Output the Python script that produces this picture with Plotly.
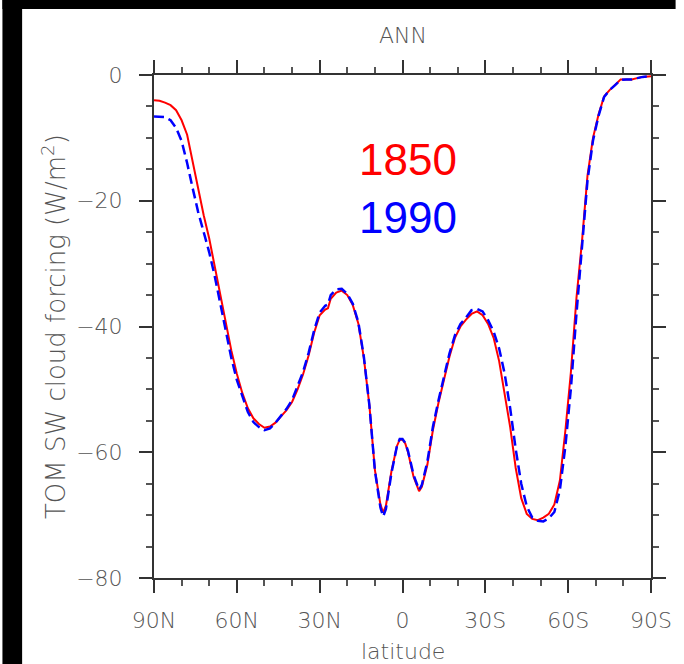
import plotly.graph_objects as go

# latitude (degrees, + = N, - = S)
lat = [90, 88, 86, 84, 82, 80, 78, 76, 74, 72, 70, 68, 66, 64, 62, 60, 58, 56, 54, 52,
       50, 48, 46, 44, 42, 40, 38, 36, 34, 32, 30, 28, 27, 26, 24, 22, 20, 18, 16, 14,
       12, 10, 8, 7, 6, 4, 2, 1, 0, -1, -2, -4, -6, -7, -9, -11, -13, -15, -17, -19,
       -21, -23, -25, -27, -29, -31, -33, -35, -37, -39, -41, -43, -45, -47, -49, -51,
       -53, -55, -57, -59, -61, -63, -65, -67, -69, -71, -73, -75, -77, -79, -81, -83,
       -85, -87, -90]

swcf_1850 = [-4.0, -4.1, -4.4, -4.8, -5.6, -7.2, -9.5, -13.8, -18.3, -22.3, -26.0, -30.5,
             -35.0, -39.5, -43.8, -47.5, -50.6, -53.0, -54.6, -55.5, -56.1, -55.9, -55.3,
             -54.3, -53.3, -52.0, -50.0, -47.6, -44.6, -41.0, -38.2, -37.3, -37.1, -35.6,
             -34.6, -34.3, -35.0, -36.6, -39.5, -45.0, -52.5, -62.8, -68.3, -69.6, -68.5,
             -63.0, -59.0, -58.0, -58.0, -58.6, -60.0, -63.9, -66.2, -65.5, -62.0, -56.5,
             -52.2, -48.5, -44.8, -41.8, -40.0, -38.9, -38.0, -37.6, -38.2, -39.6, -41.8,
             -45.5, -50.5, -56.0, -62.5, -67.3, -69.8, -70.6, -70.8, -70.4, -69.8, -68.3,
             -64.5, -56.5, -47.2, -35.5, -26.5, -16.0, -10.0, -6.3, -3.4, -2.4, -1.6, -0.7,
             -0.7, -0.7, -0.5, -0.3, -0.2]

swcf_1990 = [-6.6, -6.6, -6.7, -7.2, -8.4, -10.5, -14.0, -18.0, -21.8, -25.0, -28.2, -32.0,
             -36.3, -40.8, -45.0, -48.5, -51.2, -53.6, -55.2, -56.0, -56.5, -56.2, -55.3,
             -54.2, -53.1, -51.7, -49.6, -47.2, -44.2, -40.6, -37.8, -36.7, -36.5, -35.0,
             -34.1, -34.0, -34.8, -36.4, -39.3, -44.8, -52.5, -62.9, -68.8, -70.2, -69.0,
             -63.3, -59.0, -57.9, -57.9, -58.5, -59.8, -63.6, -66.0, -65.2, -61.5, -56.0,
             -51.8, -48.0, -44.3, -41.4, -39.6, -38.6, -37.4, -37.2, -37.6, -39.0, -40.8,
             -43.5, -47.5, -53.0, -59.5, -65.0, -68.6, -70.4, -70.9, -71.0, -70.5, -69.5,
             -66.0, -59.0, -49.8, -38.0, -27.5, -16.8, -10.4, -6.5, -3.5, -2.4, -1.6, -0.8,
             -0.7, -0.7, -0.5, -0.3, -0.2]

x_tick_vals = [90, 60, 30, 0, -30, -60, -90]
x_tick_text = ["90N", "60N", "30N", "0", "30S", "60S", "90S"]
x_minor_vals = [80, 70, 50, 40, 20, 10, -10, -20, -40, -50, -70, -80]
y_tick_vals = [0, -20, -40, -60, -80]
y_minor_vals = [-5, -10, -15, -25, -30, -35, -45, -50, -55, -65, -70, -75]

W, H = 684, 664
L, R, T, B = 154, 25, 75, 86
pw, ph = W - L - R, H - T - B

def px2x(px):
    return (px - L) / pw

def py2y(py):
    return (H - B - py) / ph

fig = go.Figure()
fig.add_trace(go.Scatter(x=lat, y=swcf_1850, mode="lines", name="1850",
                         line=dict(color="#ff0000", width=2)))
fig.add_trace(go.Scatter(x=lat, y=swcf_1990, mode="lines", name="1990",
                         line=dict(color="#0000ff", width=2.5, dash="10px,5px")))

gray = "#555555"
tick_font = dict(family="DejaVu Sans", size=22, color=gray, weight=200)
axis_common = dict(showline=True, linecolor="#333333", linewidth=2, mirror="ticks",
                   ticks="outside", ticklen=13, tickwidth=2, tickcolor="#333333",
                   showgrid=False, zeroline=False, tickfont=tick_font)

fig.update_xaxes(range=[90, -90], tickmode="array", tickvals=x_tick_vals,
                 ticktext=x_tick_text, ticklabelstandoff=9,
                 minor=dict(tickvals=x_minor_vals, ticklen=6, tickwidth=1.5,
                            tickcolor=gray, ticks="outside", showgrid=False),
                 **axis_common)
fig.update_yaxes(range=[-80, 0], tickmode="array", tickvals=y_tick_vals,
                 ticklabelstandoff=12,
                 minor=dict(tickvals=y_minor_vals, ticklen=6, tickwidth=1.5,
                            tickcolor=gray, ticks="outside", showgrid=False),
                 **axis_common)

# black frame bands (left and top) of the original picture, kept inside the figure
fig.add_shape(type="rect", xref="paper", yref="paper", layer="below",
              x0=px2x(0), x1=px2x(20), y0=py2y(H), y1=py2y(0),
              fillcolor="black", line=dict(width=0))
fig.add_shape(type="rect", xref="paper", yref="paper", layer="below",
              x0=px2x(0), x1=px2x(W), y0=py2y(9), y1=py2y(0),
              fillcolor="black", line=dict(width=0))

fig.add_annotation(text="ANN", xref="paper", yref="paper", x=0.5, y=py2y(35),
                   xanchor="center", yanchor="middle", showarrow=False,
                   font=dict(family="DejaVu Sans", size=22, color=gray, weight=200))
fig.add_annotation(text="latitude", xref="paper", yref="paper", x=0.5, y=py2y(651),
                   xanchor="center", yanchor="middle", showarrow=False,
                   font=dict(family="DejaVu Sans", size=22, color=gray, weight=200))
fig.add_annotation(text="TOM SW cloud forcing (W/m<sup>2</sup>)", xref="paper", yref="paper",
                   x=px2x(52), y=0.5, textangle=-90, xanchor="center", yanchor="middle",
                   showarrow=False,
                   font=dict(family="DejaVu Sans", size=26, color=gray, weight=200))
fig.add_annotation(text="1850", xref="x", yref="y", x=-2, y=-13.5, showarrow=False,
                   xanchor="center", yanchor="middle",
                   font=dict(family="Liberation Sans", size=44, color="#ff0000"))
fig.add_annotation(text="1990", xref="x", yref="y", x=-2, y=-22.7, showarrow=False,
                   xanchor="center", yanchor="middle",
                   font=dict(family="Liberation Sans", size=44, color="#0000ff"))

fig.update_layout(width=W, height=H, margin=dict(l=L, r=R, t=T, b=B),
                  paper_bgcolor="white", plot_bgcolor="white", showlegend=False)

fig.write_html("out.html",
               config={"displayModeBar": False, "responsive": False},
               post_script="document.body.style.margin='0';document.body.style.padding='0';"
                           "document.body.style.overflow='hidden';"
                           "document.documentElement.style.overflow='hidden';"
                           "document.body.style.background='white';")
